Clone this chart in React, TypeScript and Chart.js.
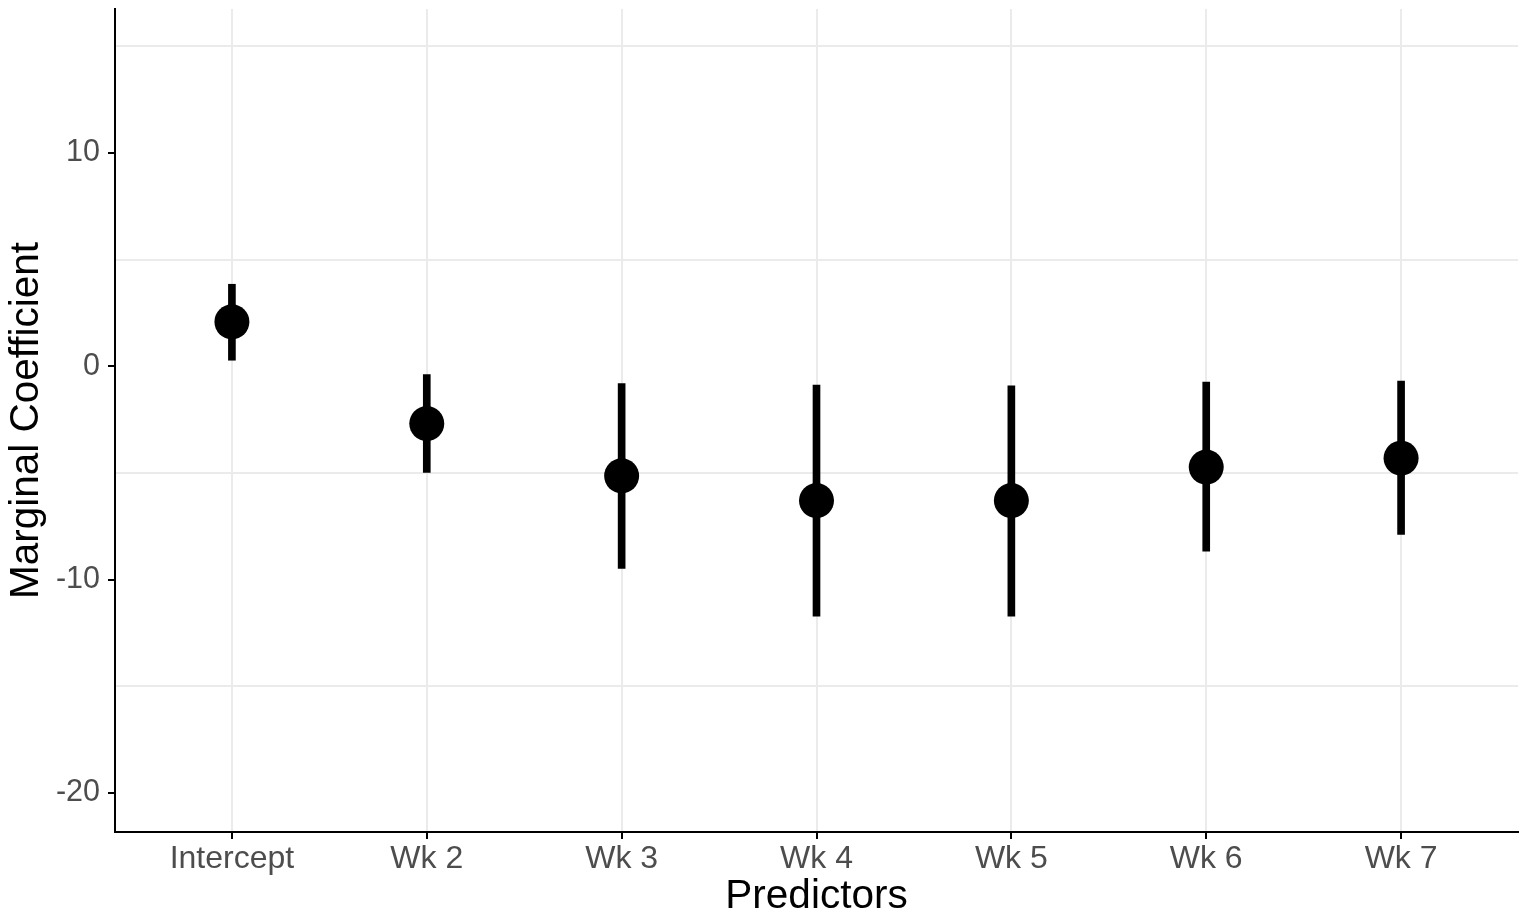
import React, { useEffect, useRef } from "react";
import { Chart, registerables } from "chart.js";

Chart.register(...registerables);

const categories = ["Intercept", "Wk 2", "Wk 3", "Wk 4", "Wk 5", "Wk 6", "Wk 7"];
const estimates = [2.08, -2.69, -5.14, -6.3, -6.3, -4.73, -4.31];
const lowerCI = [0.28, -4.98, -9.48, -11.72, -11.72, -8.67, -7.88];
const upperCI = [3.84, -0.39, -0.81, -0.88, -0.92, -0.75, -0.7];
const yTickLabels = [-20, -10, 0, 10];
const yGridValues = [-20, -15, -10, -5, 0, 5, 10, 15];

const FONT = "'Liberation Sans', Arial, sans-serif";

export default function App() {
  const canvasRef = useRef<HTMLCanvasElement | null>(null);

  useEffect(() => {
    if (!canvasRef.current) return;
    const chart = new Chart(canvasRef.current, {
      data: {
        datasets: [
          {
            type: "scatter",
            data: categories.map((_, i) => ({ x: i, y: estimates[i] })),
            backgroundColor: "#000000",
            borderWidth: 0,
            pointRadius: 17.5,
            pointHoverRadius: 17.5,
            order: 0,
          },
          {
            type: "bar",
            data: categories.map((_, i) => ({ x: i, y: [lowerCI[i], upperCI[i]] })) as any,
            backgroundColor: "#000000",
            borderWidth: 0,
            barThickness: 7,
            order: 1,
          },
        ],
      },
      options: {
        animation: false,
        responsive: true,
        maintainAspectRatio: false,
        layout: { autoPadding: false, padding: { top: 9, right: 6, left: 0, bottom: 0 } },
        plugins: { legend: { display: false }, tooltip: { enabled: false } },
        scales: {
          x: {
            type: "linear",
            min: -0.6,
            max: 6.6,
            offset: false,
            afterBuildTicks: (scale: any) => {
              scale.ticks = categories.map((_, i) => ({ value: i }));
            },
            afterFit: (scale: any) => {
              scale.height = 89;
              scale.paddingLeft = 0;
              scale.paddingRight = 0;
            },
            ticks: {
              callback: (v: any) => categories[Math.round(Number(v))] ?? "",
              color: "#4D4D4D",
              font: { family: FONT, size: 32 },
              padding: 1,
              maxRotation: 0,
              autoSkip: false,
            },
            grid: {
              offset: false,
              color: "#EBEBEB",
              lineWidth: 2,
              tickColor: "#000000",
              tickLength: 7,
              tickWidth: 2,
            },
            border: { color: "#000000", width: 2 },
            title: {
              display: true,
              text: "Predictors",
              color: "#000000",
              font: { family: FONT, size: 40.5 },
              padding: 0,
            },
          },
          y: {
            type: "linear",
            min: -21.83,
            max: 16.74,
            afterBuildTicks: (scale: any) => {
              scale.ticks = yGridValues.map((v) => ({ value: v }));
            },
            afterFit: (scale: any) => {
              scale.width = 115;
              scale.paddingTop = 0;
              scale.paddingBottom = 0;
            },
            ticks: {
              callback: (v: any) => (yTickLabels.includes(Number(v)) ? String(v) : ""),
              color: "#4D4D4D",
              font: { family: FONT, size: 30.5 },
              padding: 8,
              autoSkip: false,
            },
            grid: {
              color: (ctx: any) =>
                yTickLabels.includes(ctx.tick?.value) ? "rgba(0,0,0,0)" : "#EBEBEB",
              lineWidth: 2,
              tickColor: (ctx: any) =>
                yTickLabels.includes(ctx.tick?.value) ? "#000000" : "rgba(0,0,0,0)",
              tickLength: 7,
              tickWidth: 2,
            },
            border: { color: "#000000", width: 2 },
            title: {
              display: true,
              text: "Marginal Coefficient",
              color: "#000000",
              font: { family: FONT, size: 40.5 },
              padding: { top: 3, bottom: 0 },
            },
          },
        },
      },
    } as any);
    return () => chart.destroy();
  }, []);

  return (
    <div
      style={{
        position: "fixed",
        left: 0,
        top: 0,
        width: 1524,
        height: 921,
        background: "#ffffff",
      }}
    >
      <canvas ref={canvasRef} />
    </div>
  );
}
